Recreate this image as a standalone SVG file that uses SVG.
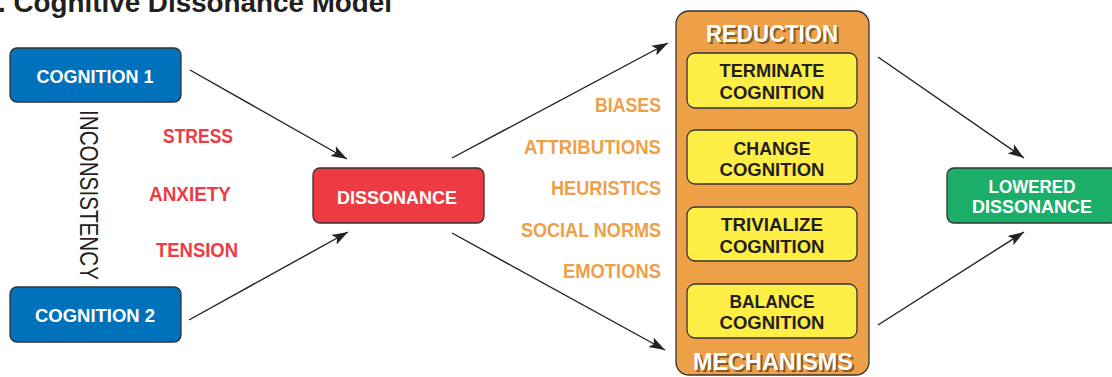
<svg xmlns="http://www.w3.org/2000/svg" width="1112" height="377" viewBox="0 0 1112 377">
<style>
text{font-family:"Liberation Sans",Arial,sans-serif;font-weight:bold;}
.box{stroke:#333;stroke-width:1.3;}
.blue{fill:#0072BC;}
.red{fill:#EE3A43;}
.green{fill:#1BAE68;}
.yel{fill:#FFEE45;}
.org{fill:#EDA048;}
.wt{fill:#fff;font-size:19px;text-anchor:middle;}
.dt{fill:#231F20;font-size:19px;text-anchor:middle;}
.rl{fill:#EE3A43;font-size:20px;text-anchor:middle;}
.ol{fill:#EDA048;font-size:20px;text-anchor:end;}
.hd{fill:#fff;font-size:24px;text-anchor:middle;}
.hs{fill:#6e4a1e;font-size:24px;text-anchor:middle;opacity:0.8;}
.conn line{stroke:#222;stroke-width:1.4;marker-end:url(#ah);}
</style>
<defs>
<marker id="ah" markerUnits="userSpaceOnUse" markerWidth="18" markerHeight="12" refX="16" refY="6" orient="auto">
<path d="M0,0.5 L16,6 L0,11.5 L3.5,6 z" fill="#222"/>
</marker>
</defs>
<rect width="1112" height="377" fill="#fff"/>
<text x="-2" y="12" font-size="27" fill="#231F20" textLength="394" lengthAdjust="spacingAndGlyphs">. Cognitive Dissonance Model</text>

<g class="conn">
<line x1="190" y1="70" x2="347" y2="159"/>
<line x1="189" y1="320" x2="348" y2="232"/>
<line x1="452" y1="158" x2="668" y2="43"/>
<line x1="452" y1="233" x2="665" y2="350"/>
<line x1="878" y1="57" x2="1024" y2="158"/>
<line x1="878" y1="325" x2="1024" y2="232"/>
</g>

<g id="cognition1">
<rect class="box blue" x="10" y="48" width="171" height="54" rx="7"/>
<text class="wt" x="95" y="83" textLength="117" lengthAdjust="spacingAndGlyphs">COGNITION 1</text>
</g>
<g id="cognition2">
<rect class="box blue" x="10" y="287" width="171" height="55" rx="7"/>
<text class="wt" x="95" y="322" textLength="120" lengthAdjust="spacingAndGlyphs">COGNITION 2</text>
</g>
<g id="inconsistency">
<text transform="translate(80,195) rotate(90)" x="0" y="0" font-size="25" fill="#231F20" style="font-weight:normal" text-anchor="middle" textLength="170" lengthAdjust="spacingAndGlyphs">INCONSISTENCY</text>
</g>
<g id="feelings">
<text class="rl" x="198" y="143" textLength="70" lengthAdjust="spacingAndGlyphs">STRESS</text>
<text class="rl" x="190" y="201" textLength="82" lengthAdjust="spacingAndGlyphs">ANXIETY</text>
<text class="rl" x="197" y="257" textLength="82" lengthAdjust="spacingAndGlyphs">TENSION</text>
</g>
<g id="dissonance">
<rect class="box red" x="313" y="168" width="171" height="55" rx="7"/>
<text class="wt" x="397" y="204" textLength="120" lengthAdjust="spacingAndGlyphs">DISSONANCE</text>
</g>
<g id="factors">
<text class="ol" x="661" y="112" textLength="66" lengthAdjust="spacingAndGlyphs">BIASES</text>
<text class="ol" x="661" y="154" textLength="137" lengthAdjust="spacingAndGlyphs">ATTRIBUTIONS</text>
<text class="ol" x="661" y="195" textLength="110" lengthAdjust="spacingAndGlyphs">HEURISTICS</text>
<text class="ol" x="661" y="237" textLength="140" lengthAdjust="spacingAndGlyphs">SOCIAL NORMS</text>
<text class="ol" x="661" y="278" textLength="98" lengthAdjust="spacingAndGlyphs">EMOTIONS</text>
</g>
<g id="reduction-mechanisms">
<rect class="box org" x="676" y="11" width="193" height="364" rx="13"/>
<text class="hs" x="774" y="43.5" textLength="132" lengthAdjust="spacingAndGlyphs">REDUCTION</text>
<text class="hd" x="772" y="42" textLength="132" lengthAdjust="spacingAndGlyphs">REDUCTION</text>
<text class="hs" x="775" y="371.5" textLength="160" lengthAdjust="spacingAndGlyphs">MECHANISMS</text>
<text class="hd" x="773" y="370" textLength="160" lengthAdjust="spacingAndGlyphs">MECHANISMS</text>
</g>
<g id="terminate">
<rect class="box yel" x="687" y="53" width="170" height="55" rx="8"/>
<text class="dt" x="772" y="77" textLength="105" lengthAdjust="spacingAndGlyphs">TERMINATE</text>
<text class="dt" x="772" y="99" textLength="105" lengthAdjust="spacingAndGlyphs">COGNITION</text>
</g>
<g id="change">
<rect class="box yel" x="687" y="130" width="170" height="54" rx="8"/>
<text class="dt" x="772" y="155" textLength="77" lengthAdjust="spacingAndGlyphs">CHANGE</text>
<text class="dt" x="772" y="176" textLength="105" lengthAdjust="spacingAndGlyphs">COGNITION</text>
</g>
<g id="trivialize">
<rect class="box yel" x="687" y="207" width="170" height="54" rx="8"/>
<text class="dt" x="772" y="231" textLength="102" lengthAdjust="spacingAndGlyphs">TRIVIALIZE</text>
<text class="dt" x="772" y="253" textLength="105" lengthAdjust="spacingAndGlyphs">COGNITION</text>
</g>
<g id="balance">
<rect class="box yel" x="687" y="284" width="170" height="54" rx="8"/>
<text class="dt" x="772" y="308" textLength="85" lengthAdjust="spacingAndGlyphs">BALANCE</text>
<text class="dt" x="772" y="329" textLength="105" lengthAdjust="spacingAndGlyphs">COGNITION</text>
</g>
<g id="lowered-dissonance">
<rect class="box green" x="947" y="168" width="171" height="55" rx="7"/>
<text class="wt" x="1032" y="193" textLength="87" lengthAdjust="spacingAndGlyphs">LOWERED</text>
<text class="wt" x="1032" y="213" textLength="120" lengthAdjust="spacingAndGlyphs">DISSONANCE</text>
</g>
</svg>
